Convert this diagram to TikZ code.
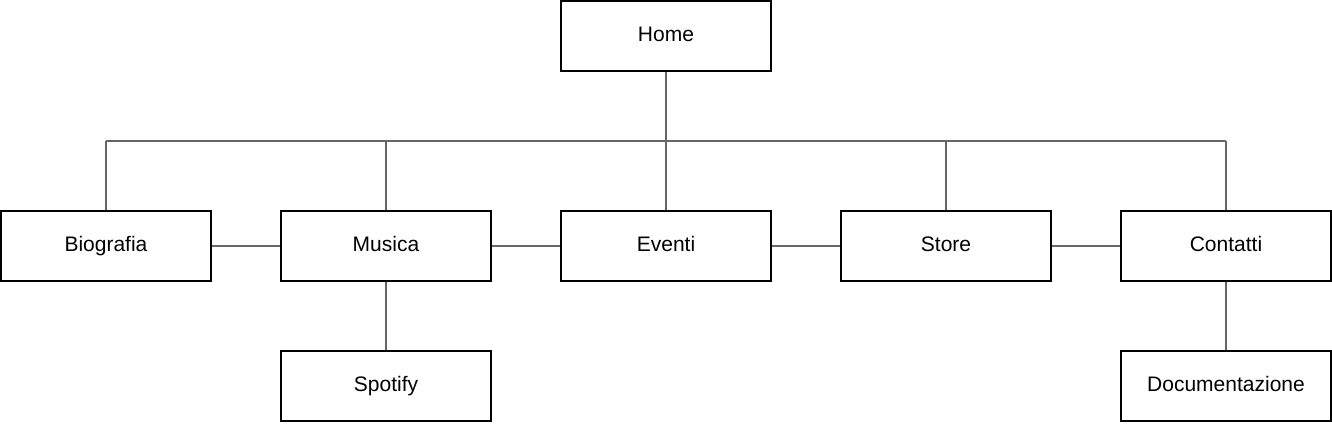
\documentclass[tikz,border=0pt]{standalone}
\usepackage{fontspec}
\setmainfont{Liberation Sans}
\begin{document}
\begin{tikzpicture}[x=0.75pt,y=-0.75pt,
  box/.style={draw=black,line width=1pt,fill=white,minimum width=210*0.75pt,minimum height=70*0.75pt,inner sep=0pt,text height=11.4pt,text depth=3.2pt,font=\fontsize{15.75}{18}\selectfont},
  link/.style={draw=black!60,line width=0.8pt}]
\useasboundingbox (0,0) rectangle (1332,424);
\coordinate (busL) at (106,141);
\coordinate (busR) at (1226,141);
\node[box] (home) at (666,36) {Home};
\node[box] (bio) at (106,246) {Biografia};
\node[box] (mus) at (386,246) {Musica};
\node[box] (eve) at (666,246) {Eventi};
\node[box] (sto) at (946,246) {Store};
\node[box] (con) at (1226,246) {Contatti};
\node[box] (spo) at (386,386) {Spotify};
\node[box] (doc) at (1226,386) {Documentazione};
\path[link] (busL) -- (busR);
\path[link] (home.south) -- (eve.north);
\path[link] (bio.north) -- (bio.north |- busL);
\path[link] (mus.north) -- (mus.north |- busL);
\path[link] (sto.north) -- (sto.north |- busL);
\path[link] (con.north) -- (con.north |- busL);
\path[link] (bio.east) -- (mus.west);
\path[link] (mus.east) -- (eve.west);
\path[link] (eve.east) -- (sto.west);
\path[link] (sto.east) -- (con.west);
\path[link] (mus.south) -- (spo.north);
\path[link] (con.south) -- (doc.north);
\end{tikzpicture}
\end{document}
